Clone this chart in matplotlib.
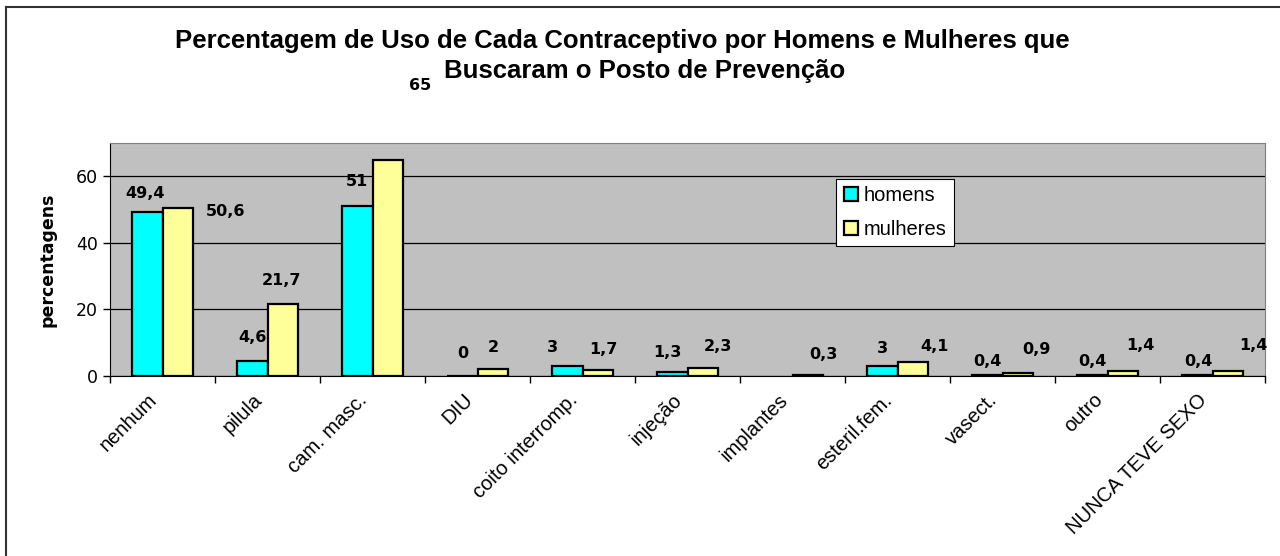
import numpy as np
import matplotlib
matplotlib.use('Agg')
import matplotlib.pyplot as plt
import matplotlib.transforms as mtransforms
from matplotlib.lines import Line2D

CATEGORIES = ['nenhum', 'pilula', 'cam. masc.', 'DIU', 'coito interromp.', 'injeção',
              'implantes', 'esteril.fem.', 'vasect.', 'outro', 'NUNCA TEVE SEXO']
HOMENS = [49.4, 4.6, 51, 0, 3, 1.3, np.nan, 3, 0.4, 0.4, 0.4]
MULHERES = [50.6, 21.7, 65, 2, 1.7, 2.3, 0.3, 4.1, 0.9, 1.4, 1.4]
HOMENS_TXT = ['49,4', '4,6', '51', '0', '3', '1,3', '', '3', '0,4', '0,4', '0,4']
MULHERES_TXT = ['50,6', '21,7', '65', '2', '1,7', '2,3', '0,3', '4,1', '0,9', '1,4', '1,4']
TITLE_1 = 'Percentagem de Uso de Cada Contraceptivo por Homens e Mulheres que'
TITLE_2 = 'Buscaram o Posto de Prevenção'

# label offsets in pixels (dx from bar centre, dy above bar top), like excel placed them
H_OFF = [(-2, 18), (0, 23), (0, 25), (1, 23), (-15, 19), (-5, 19), (0, 0), (0, 18), (0, 13), (0, 13), (1, 13)]
M_OFF = [(48, -4), (-1, 23), (32, 74), (0, 22), (5, 21), (15, 22), (15, 21), (22, 16), (18, 24), (17, 26), (25, 26)]

ARIAL = 'Liberation Sans'

fig = plt.figure(figsize=(12.8, 5.56), dpi=100)
ax = fig.add_axes([110/1280, 1 - 376/556, 1155/1280, 233/556])
ax.set_facecolor('#C0C0C0')

x = np.arange(len(CATEGORIES))
w = 0.295
ax.bar(x - w/2, HOMENS, w, color='#00FFFF', edgecolor='black', linewidth=1.6, label='homens', zorder=3)
ax.bar(x + w/2, MULHERES, w, color='#FFFF99', edgecolor='black', linewidth=1.6, label='mulheres', zorder=3)

for i in range(len(CATEGORIES)):
    if HOMENS_TXT[i]:
        ax.annotate(HOMENS_TXT[i], (x[i] - w/2, HOMENS[i]), xytext=H_OFF[i], textcoords='offset pixels',
                    ha='center', va='center', fontsize=11.5, fontweight='bold', zorder=4)
    ax.annotate(MULHERES_TXT[i], (x[i] + w/2, MULHERES[i]), xytext=M_OFF[i], textcoords='offset pixels',
                ha='center', va='center', fontsize=11.5, fontweight='bold', zorder=4, annotation_clip=False)

ax.set_xlim(-0.5, len(CATEGORIES) - 0.5)
ax.set_ylim(0, 70)
ax.set_yticks([0, 20, 40, 60])
ax.tick_params(axis='y', labelsize=12.5, length=5, width=1, direction='out')
ax.yaxis.grid(True, color='black', linewidth=0.9, zorder=1)
ax.set_axisbelow(True)

ax.set_xticks(np.arange(-0.5, len(CATEGORIES)), [''] * (len(CATEGORIES) + 1))
ax.set_xticks(x, CATEGORIES, minor=True, rotation=45, ha='right', va='center', rotation_mode='anchor',
              family=ARIAL)
ax.tick_params(axis='x', which='major', length=5, width=1)
ax.tick_params(axis='x', which='minor', length=0, pad=15, labelsize=14.5)
shift = mtransforms.ScaledTranslation(-8/100, 0, fig.dpi_scale_trans)
for lab in ax.xaxis.get_minorticklabels():
    lab.set_transform(lab.get_transform() + shift)

ax.spines['left'].set_color('black')
ax.spines['bottom'].set_color('black')
ax.spines['top'].set_color('#808080')
ax.spines['right'].set_color('#808080')

ax.set_ylabel('percentagens', fontsize=12.5, fontweight='bold', labelpad=14)

leg = ax.legend(loc='upper left', bbox_to_anchor=(0.629, 0.845), prop={'family': ARIAL, 'size': 14.5},
                frameon=True, fancybox=False, edgecolor='black', framealpha=1,
                handlelength=0.7, handleheight=0.7, handletextpad=0.3,
                borderpad=0.35, labelspacing=0.75, borderaxespad=0)
leg.get_frame().set_linewidth(0.8)

fig.text(622/1280, 1 - 48/556, TITLE_1, ha='center', va='baseline', fontsize=18.5, fontweight='bold', family=ARIAL)
fig.text(645/1280, 1 - 78/556, TITLE_2, ha='center', va='baseline', fontsize=18.5, fontweight='bold', family=ARIAL)

# chart border (top and left visible)
fig.add_artist(Line2D([6/1280, 6/1280], [0, 1 - 7/556], color='#333333', linewidth=1.5))
fig.add_artist(Line2D([6/1280, 1], [1 - 7/556, 1 - 7/556], color='#333333', linewidth=1.5))

fig.savefig('out.png', dpi=100)
